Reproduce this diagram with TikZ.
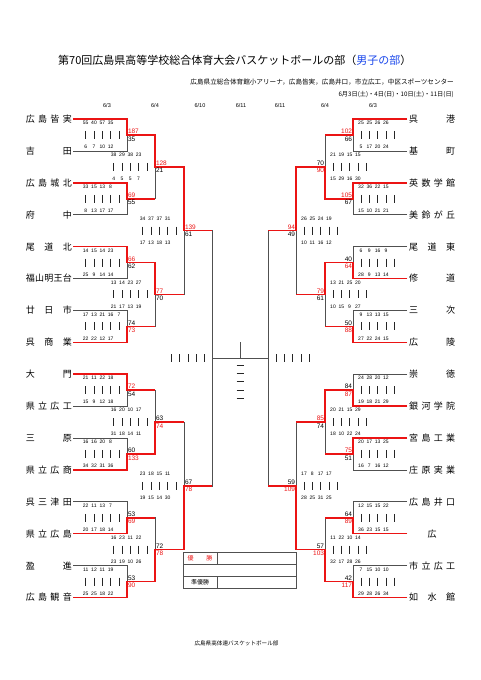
\documentclass[tikz,border=0pt]{standalone}
\usepackage{fontspec}
\setmainfont{Noto Sans CJK JP}
\newfontfamily\numf{Liberation Sans}
\usetikzlibrary{calc}
\definecolor{wred}{RGB}{235,20,20}
\definecolor{lgray}{RGB}{80,80,80}
\definecolor{tblue}{RGB}{25,70,235}
\tikzset{
 gl/.style={draw=lgray,line width=0.7pt},
 rl/.style={draw=wred,line width=1.5pt},
 tbar/.style={draw=black!85,line width=0.7pt},
 boxl/.style={draw=lgray,line width=0.6pt},
 tq/.style={font=\numf\fontsize{5}{5}\selectfont,inner sep=0pt},
 sc/.style={font=\numf\fontsize{6.5}{6.5}\selectfont,inner sep=0pt},
 tname/.style={font=\fontsize{9}{9}\selectfont,inner sep=0pt},
 dt/.style={font=\numf\fontsize{5.5}{5.5}\selectfont,inner sep=0pt},
}
\newcommand\barsat[2]{\foreach \k in {0,...,4} \draw[tbar] ($(#1)+({#2+8.3*\k},-4)$) -- ($(#1)+({#2+8.3*\k},4)$);}
\newcommand\tally[4]{\barsat{#1}{#2}%
 \foreach \s [count=\k from 0] in {#3} \node[tq] (#1u\k) at ($(#1)+({#2+8.3*\k},-12)$) {\s};%
 \foreach \s [count=\k from 0] in {#4} \node[tq] (#1d\k) at ($(#1)+({#2+8.3*\k},12)$) {\s};}
\newcommand\lsc[5]{%
 \node[sc,text=#2,anchor=base west,xshift=0.8pt,yshift=1.2pt] (#1st) at (#1) {#3};
 \node[sc,text=#4,anchor=north west,xshift=0.8pt,yshift=-1.4pt] (#1sb) at (#1) {#5};}
\newcommand\rsc[5]{%
 \node[sc,text=#2,anchor=base east,xshift=-0.8pt,yshift=1.2pt] (#1st) at (#1) {#3};
 \node[sc,text=#4,anchor=north east,xshift=-0.8pt,yshift=-1.4pt] (#1sb) at (#1) {#5};}
\begin{document}
\begin{tikzpicture}[x=1pt,y=-1pt]
\useasboundingbox (0,0) rectangle (481,680);
% header
\node[anchor=west,inner sep=0pt,font=\fontsize{11}{11}\selectfont] (title) at (58,60) {第70回広島県高等学校総合体育大会バスケットボールの部（\textcolor{tblue}{男子の部}）};
\node[anchor=east,inner sep=0pt,font=\fontsize{6.6}{6.6}\selectfont] (venue) at (454,82) {広島県立総合体育館小アリーナ，広島皆実，広島井口，市立広工，中区スポーツセンター};
\node[anchor=east,inner sep=0pt,font=\fontsize{6.2}{6.2}\selectfont] (days) at (454,95) {6月3日(土)・4日(日)・10日(土)・11日(日)};
\node[dt] (d1) at (107,106) {6/3};
\node[dt] (d2) at (155,106) {6/4};
\node[dt] (d3) at (200,106) {6/10};
\node[dt] (d4) at (241,106) {6/11};
\node[dt] (d5) at (280,106) {6/11};
\node[dt] (d6) at (325,106) {6/4};
\node[dt] (d7) at (373,106) {6/3};
% coordinates
\foreach \i in {0,...,15}{\coordinate (LT\i) at (73,{119+31.9*\i}); \coordinate (RT\i) at (407,{119+31.9*\i});}
\foreach \j in {0,...,7}{\coordinate (LA\j) at (127,{119+31.9*(2*\j+0.5)}); \coordinate (RA\j) at (353,{119+31.9*(2*\j+0.5)});}
\foreach \j in {0,...,3}{\coordinate (LB\j) at (155,{119+31.9*(4*\j+1.5)}); \coordinate (RB\j) at (325,{119+31.9*(4*\j+1.5)});}
\foreach \j in {0,1}{\coordinate (LC\j) at (184,{119+31.9*(8*\j+3.5)}); \coordinate (RC\j) at (296,{119+31.9*(8*\j+3.5)});}
\coordinate (LD) at (212,{119+31.9*7.5});
\coordinate (RD) at (268,{119+31.9*7.5});
\coordinate (FT) at (240,342);
% team names
\foreach \n [count=\i from 0] in {{広\hfill 島\hfill 皆\hfill 実},{吉\hfill 田},{広\hfill 島\hfill 城\hfill 北},{府\hfill 中},{尾\hfill 道\hfill 北},{福\hfill 山\hfill 明\hfill 王\hfill 台},{廿\hfill 日\hfill 市},{呉\hfill 商\hfill 業},{大\hfill 門},{県\hfill 立\hfill 広\hfill 工},{三\hfill 原},{県\hfill 立\hfill 広\hfill 商},{呉\hfill 三\hfill 津\hfill 田},{県\hfill 立\hfill 広\hfill 島},{盈\hfill 進},{広\hfill 島\hfill 観\hfill 音}}
 \node[tname,anchor=east] (LN\i) at (72,{119+31.9*\i}) {\makebox[46pt]{\n}};
\foreach \n [count=\i from 0] in {{呉\hfill 港},{基\hfill 町},{英\hfill 数\hfill 学\hfill 館},{美\hfill 鈴\hfill が\hfill 丘},{尾\hfill 道\hfill 東},{修\hfill 道},{三\hfill 次},{広\hfill 陵},{崇\hfill 徳},{銀\hfill 河\hfill 学\hfill 院},{宮\hfill 島\hfill 工\hfill 業},{庄\hfill 原\hfill 実\hfill 業},{広\hfill 島\hfill 井\hfill 口},{\hfill 広\hfill},{市\hfill 立\hfill 広\hfill 工},{如\hfill 水\hfill 館}}
 \node[tname,anchor=west] (RN\i) at (409,{119+31.9*\i}) {\makebox[46pt]{\n}};
% gray skeleton
\foreach \j [evaluate=\j as \a using int(2*\j), evaluate=\j as \b using int(2*\j+1)] in {0,...,7}{
 \draw[gl] (LT\a) -| (LA\j) (LT\b) -| (LA\j);
 \draw[gl] (RT\a) -| (RA\j) (RT\b) -| (RA\j);}
\foreach \j [evaluate=\j as \a using int(2*\j), evaluate=\j as \b using int(2*\j+1)] in {0,...,3}{
 \draw[gl] (LA\a) -| (LB\j) (LA\b) -| (LB\j);
 \draw[gl] (RA\a) -| (RB\j) (RA\b) -| (RB\j);}
\foreach \j [evaluate=\j as \a using int(2*\j), evaluate=\j as \b using int(2*\j+1)] in {0,1}{
 \draw[gl] (LB\a) -| (LC\j) (LB\b) -| (LC\j);
 \draw[gl] (RB\a) -| (RC\j) (RB\b) -| (RC\j);}
\draw[gl] (LC0) -| (LD) (LC1) -| (LD);
\draw[gl] (RC0) -| (RD) (RC1) -| (RD);
\draw[gl] (LD) -- (RD);
\draw[gl] (FT) -- (FT |- LD);
% red winner paths
\draw[rl] (LT0) -| (LA0) -| (LB0) -| (LC0) -- (LC0 -| LD);
\draw[rl] (LT2) -| (LA1) -- (LA1 -| LB0);
\draw[rl] (LT4) -| (LA2) -| (LB1) -- (LB1 -| LC0);
\draw[rl] (LT7) -| (LA3) -- (LA3 -| LB1);
\draw[rl] (LT8) -| (LA4) -- (LA4 -| LB2);
\draw[rl] (LT11) -| (LA5) -| (LB2) -- (LB2 -| LC1);
\draw[rl] (LT13) -| (LA6) -- (LA6 -| LB3);
\draw[rl] (LT15) -| (LA7) -| (LB3) -| (LC1) -- (LC1 -| LD);
\draw[rl] (RT0) -| (RA0) -- (RA0 -| RB0);
\draw[rl] (RT2) -| (RA1) -| (RB0) -| (RC0) -- (RC0 -| RD);
\draw[rl] (RT5) -| (RA2) -| (RB1) -- (RB1 -| RC0);
\draw[rl] (RT7) -| (RA3) -- (RA3 -| RB1);
\draw[rl] (RT9) -| (RA4) -| (RB2) -- (RB2 -| RC1);
\draw[rl] (RT10) -| (RA5) -- (RA5 -| RB2);
\draw[rl] (RT13) -| (RA6) -- (RA6 -| RB3);
\draw[rl] (RT15) -| (RA7) -| (RB3) -| (RC1) -- (RC1 -| RD);
% scores left
\lsc{LA0}{wred}{187}{black}{35}
\lsc{LA1}{wred}{69}{black}{55}
\lsc{LA2}{wred}{66}{black}{62}
\lsc{LA3}{black}{74}{wred}{73}
\lsc{LA4}{wred}{72}{black}{54}
\lsc{LA5}{black}{60}{wred}{133}
\lsc{LA6}{black}{53}{wred}{69}
\lsc{LA7}{black}{53}{wred}{90}
\lsc{LB0}{wred}{128}{black}{21}
\lsc{LB1}{wred}{77}{black}{70}
\lsc{LB2}{black}{63}{wred}{74}
\lsc{LB3}{black}{72}{wred}{78}
\lsc{LC0}{wred}{139}{black}{61}
\lsc{LC1}{black}{67}{wred}{78}
% scores right
\rsc{RA0}{wred}{102}{black}{66}
\rsc{RA1}{wred}{105}{black}{67}
\rsc{RA2}{black}{40}{wred}{64}
\rsc{RA3}{black}{50}{wred}{88}
\rsc{RA4}{black}{84}{wred}{87}
\rsc{RA5}{wred}{75}{black}{51}
\rsc{RA6}{black}{64}{wred}{89}
\rsc{RA7}{black}{42}{wred}{117}
\rsc{RB0}{black}{70}{wred}{90}
\rsc{RB1}{wred}{79}{black}{61}
\rsc{RB2}{wred}{85}{black}{74}
\rsc{RB3}{black}{57}{wred}{103}
\rsc{RC0}{wred}{94}{black}{49}
\rsc{RC1}{black}{59}{wred}{109}
% tallies left
\tally{LA0}{-41.3}{55,40,57,35}{6,7,10,12}
\tally{LA1}{-41.3}{33,15,13,8}{8,13,17,17}
\tally{LB0}{-41.3}{38,29,38,23}{4,5,5,7}
\tally{LA2}{-41.3}{14,15,14,23}{25,9,14,14}
\tally{LA3}{-41.3}{17,13,21,16,7}{22,22,12,17}
\tally{LB1}{-41.3}{13,14,23,27}{21,17,13,19}
\tally{LC0}{-41.3}{34,37,37,31}{17,13,18,13}
\tally{LA4}{-41.3}{21,11,22,18}{15,9,12,18}
\tally{LA5}{-41.3}{16,16,20,8}{34,32,31,36}
\tally{LB2}{-41.3}{16,20,10,17}{31,18,14,11}
\tally{LA6}{-41.3}{22,11,13,7}{20,17,18,14}
\tally{LA7}{-41.3}{11,12,11,19}{25,25,18,22}
\tally{LB3}{-41.3}{16,23,11,22}{23,19,10,26}
\tally{LC1}{-41.3}{23,18,15,11}{19,15,14,30}
% tallies right
\tally{RA0}{8}{25,25,26,26}{5,17,20,24}
\tally{RA1}{8}{32,36,22,15}{15,10,21,21}
\tally{RB0}{8}{21,19,15,15}{15,29,16,30}
\tally{RA2}{8}{6,9,16,9}{28,9,13,14}
\tally{RA3}{8}{9,13,13,15}{27,22,24,15}
\tally{RB1}{8}{13,21,25,20}{10,15,9,27}
\tally{RC0}{8}{26,25,24,19}{10,11,16,12}
\tally{RA4}{8}{24,28,20,12}{19,18,21,29}
\tally{RA5}{8}{20,17,13,25}{16,7,16,12}
\tally{RB2}{8}{20,21,15,29}{18,10,22,24}
\tally{RA6}{8}{12,15,15,22}{36,23,15,15}
\tally{RA7}{8}{7,15,10,10}{29,28,26,34}
\tally{RB3}{8}{11,22,10,14}{32,17,28,26}
\tally{RC1}{8}{17,8,17,17}{28,25,31,25}
% semifinal / final tallies
\barsat{LD}{-40.5}
\barsat{RD}{8}
\foreach \k in {0,...,4} \draw[tbar] (236.5,{365+8.3*\k}) -- (243.5,{365+8.3*\k});
% result box
\draw[boxl] (183,552) rectangle (296,588);
\draw[boxl] (183,564) -- (296,564) (183,576) -- (296,576);
\draw[boxl] (217,552) -- (217,564) (217,576) -- (217,588);
\node[inner sep=0pt,text=wred,font=\fontsize{6}{6}\selectfont] (champ) at (200,558) {\makebox[25pt]{優\hfill 勝}};
\node[inner sep=0pt,font=\fontsize{6}{6}\selectfont] (runner) at (200,582) {準優勝};
% footer
\node[inner sep=0pt,font=\fontsize{5.6}{5.6}\selectfont] (foot) at (236.5,643) {広島県高体連バスケットボール部};
\end{tikzpicture}
\end{document}
